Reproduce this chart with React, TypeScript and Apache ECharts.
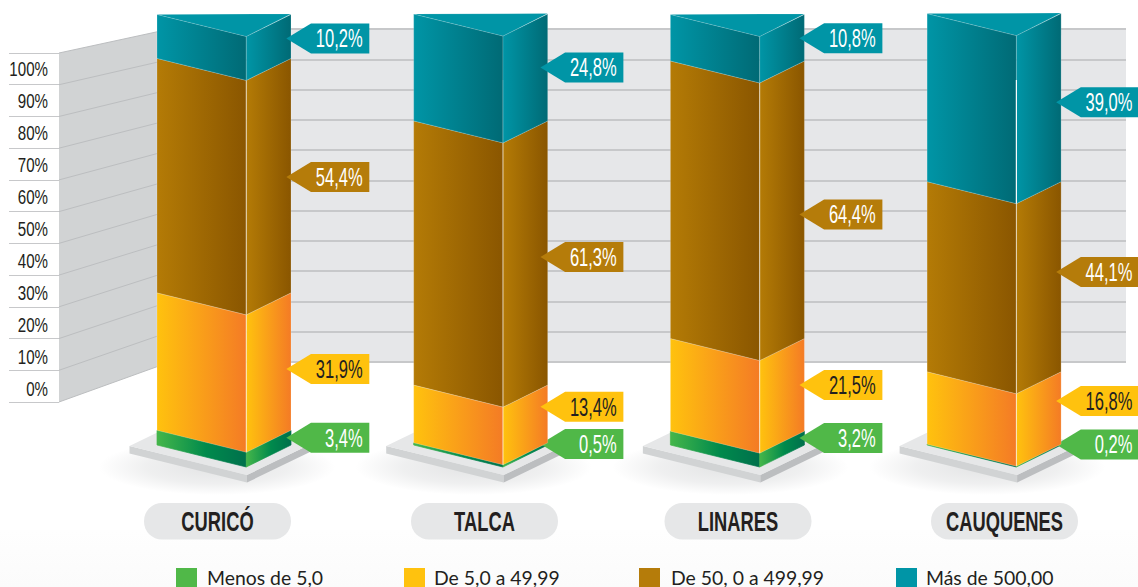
import React, { useEffect, useRef } from "react";
import * as echarts from "echarts";

const categories = ["CURICÓ", "TALCA", "LINARES", "CAUQUENES"];
const menosDe5 = [3.4, 0.5, 3.2, 0.2];
const de5a49 = [31.9, 13.4, 21.5, 16.8];
const de50a499 = [54.4, 61.3, 64.4, 44.1];
const masDe500 = [10.2, 24.8, 10.8, 39.0];
const legendNames = ["Menos de 5,0", "De 5,0 a 49,99", "De 50, 0 a 499,99", "Más de 500,00"];
const wallTicks = [-10, 0, 10, 20, 30, 40, 50, 60, 70, 80, 90, 100];
const wallLabels = [100, 90, 80, 70, 60, 50, 40, 30, 20, 10, 0];

const BODY = '"Liberation Sans", Arial, sans-serif';
const INK = "#231f20";
const legendColors = ["#50b848", "#ffc20e", "#b57c0a", "#0095a6"];
const legendLefts = [176, 404, 639, 896];
const legendTextGap = [5, 4, 6, 4];
const faceStops = [
  [[0, "#45b64a"], [0.55, "#008a4c"], [1, "#00704c"]],
  [[0, "#ffc20e"], [1, "#f47b25"]],
  [[0, "#b47b06"], [1, "#8a5600"]],
  [[0, "#0095a6"], [1, "#006a75"]],
];
const labelFill = ["#ffffff", INK, "#ffffff", "#ffffff"];
// pixel nudges of the callouts from their segment's middle, [series][category]
const calloutNudge = [
  [0, 0, 0, 0],
  [7.4, -7.3, 0, -7],
  [1.4, 4, 14.7, -4.7],
  [2, 0, 0.6, 4.7],
];
const calloutShift = [-4.7, -7.3, -5, -5];
const pillShift = [-6.5, 3.8, 0.6, 10.4];
const tealSeamAlpha = [0, 0.12, 0, 0.95];

const faceHalf = 67;
const midOffset = 22.3;
const drop = 22;

function gradient(stops: any[]) {
  return new echarts.graphic.LinearGradient(
    0, 0, 1, 0,
    stops.map(([offset, color]) => ({ offset, color }))
  );
}

const seriesValues = [menosDe5, de5a49, de50a499, masDe500];

function segmentData(k: number) {
  return categories.map((_, i) => {
    let start = 0;
    for (let s = 0; s < k; s++) start += seriesValues[s][i];
    return [i, start, start + seriesValues[k][i], seriesValues[k][i]];
  });
}

function segmentRender(k: number) {
  return (params: any, api: any) => {
    const i = params.dataIndex;
    const a = api.coord([api.value(0), api.value(1)]);
    const b = api.coord([api.value(0), api.value(2)]);
    const cx = a[0];
    const left = cx - faceHalf;
    const mid = cx + midOffset;
    const right = cx + faceHalf;
    const y0 = a[1];
    const y1 = b[1];
    const edge =
      k === 0
        ? { stroke: gradient(faceStops[0]), lineWidth: 0.7 }
        : { stroke: "rgba(255,255,255,0.3)", lineWidth: 0.6 };
    const children: any[] = [
      {
        type: "polygon",
        shape: { points: [[left, y1], [mid, y1 + drop], [mid, y0 + drop], [left, y0]] },
        style: { fill: gradient(faceStops[k]), ...edge },
      },
      {
        type: "polygon",
        shape: { points: [[mid, y1 + drop], [right, y1], [right, y0], [mid, y0 + drop]] },
        style: { fill: gradient(faceStops[k]), ...edge },
      },
    ];
    if (k === 1 || k === 2) {
      children.push({
        type: "line",
        shape: { x1: mid, y1: y1 + drop, x2: mid, y2: y0 + drop },
        style: { stroke: "rgba(255,255,255,0.55)", lineWidth: 1 },
      });
    }
    if (k === 3) {
      children.push({
        type: "line",
        shape: { x1: mid, y1: 80, x2: mid, y2: y0 + drop },
        style: { stroke: `rgba(255,255,255,${tealSeamAlpha[i]})`, lineWidth: 1.2 },
      });
      children.push({
        type: "polygon",
        shape: { points: [[left, y1], [mid, y1 + drop], [right, y1 - 0.5]] },
        style: { fill: "#0095a6", stroke: "rgba(255,255,255,0.25)", lineWidth: 0.5 },
      });
    }
    // callout
    const cy = (y0 + y1) / 2 + calloutNudge[k][i];
    const tip = right + calloutShift[i];
    const bodyLeft = tip + 24.7;
    const bodyRight = tip + 83;
    children.push({
      type: "polygon",
      shape: {
        points: [
          [tip, cy],
          [bodyLeft, cy - 15],
          [bodyRight, cy - 15],
          [bodyRight, cy + 15],
          [bodyLeft, cy + 15],
        ],
      },
      style: { fill: legendColors[k] },
    });
    children.push({
      type: "text",
      x: bodyRight - 6.7,
      y: cy,
      scaleX: 0.66,
      style: {
        text: api.value(3).toFixed(1).replace(".", ",") + "%",
        align: "right",
        verticalAlign: "middle",
        fontFamily: BODY,
        fontSize: 25,
        fill: labelFill[k],
      },
    });
    return { type: "group", children };
  };
}

function baseRender(params: any, api: any) {
  const i = params.dataIndex;
  const p = api.coord([api.value(0), 0]);
  const cx = p[0];
  const y0 = p[1];
  const xL = cx - 94.5;
  const xM = cx + 23;
  const xR = cx + 87;
  const yL = y0 + 1;
  const yM = y0 + 30;
  const yR = y0 - 1;
  const t = 7.5;
  const pillCx = cx + pillShift[i];
  return {
    type: "group",
    children: [
      {
        type: "ellipse",
        shape: { cx: cx - 7, cy: y0 + 22, rx: 118, ry: 28 },
        style: {
          fill: new echarts.graphic.RadialGradient(0.5, 0.5, 0.5, [
            { offset: 0, color: "rgba(188,190,192,0.42)" },
            { offset: 0.6, color: "rgba(188,190,192,0.24)" },
            { offset: 1, color: "rgba(188,190,192,0)" },
          ]),
        },
      },
      {
        type: "polygon",
        shape: { points: [[xL, yL], [xM, yM], [xM, yM + t], [xL, yL + t]] },
        style: { fill: "#d1d3d4" },
      },
      {
        type: "polygon",
        shape: { points: [[xM, yM], [xR, yR], [xR, yR + t], [xM, yM + t]] },
        style: { fill: "#bcbec0" },
      },
      {
        type: "polygon",
        shape: { points: [[xL, yL], [xL + xR - xM, yL + yR - yM], [xR, yR], [xM, yM]] },
        style: { fill: "#e6e7e8" },
      },
      {
        type: "rect",
        shape: { x: pillCx - 73.5, y: 503, width: 147, height: 36.5, r: 18 },
        style: { fill: "#e6e7e8" },
      },
      {
        type: "text",
        x: pillCx,
        y: 521.5,
        scaleX: 0.655,
        style: {
          text: categories[i],
          align: "center",
          verticalAlign: "middle",
          fontFamily: BODY,
          fontWeight: "bold",
          fontSize: 28,
          fill: INK,
        },
      },
    ],
  };
}

function wallLabelRender(params: any, api: any) {
  const v = api.value(1);
  const p = api.coord([1, v]);
  return {
    type: "text",
    x: p[0] - 11,
    y: p[1] + 16 + (100 - v) * 0.025,
    scaleX: 0.72,
    style: {
      text: v + "%",
      align: "right",
      verticalAlign: "middle",
      fontFamily: BODY,
      fontSize: 21,
      fill: INK,
    },
  };
}

function wallGraphic() {
  const wallY = (v: number) => 402 - ((v + 10) / 110) * 349;
  const backY = (v: number) => 362 - ((v + 10) / 110) * 333;
  const els: any[] = [
    {
      type: "rect",
      shape: { x: 0, y: 530, width: 1138, height: 57 },
      style: {
        fill: new echarts.graphic.LinearGradient(0, 0, 0, 1, [
          { offset: 0, color: "#fefefe" },
          { offset: 1, color: "#fbfbfb" },
        ]),
      },
    },
    {
      type: "polygon",
      shape: { points: [[59, wallY(100)], [170, backY(100)], [170, backY(-10)], [59, wallY(-10)]] },
      style: { fill: "#d1d3d4" },
    },
  ];
  wallTicks.forEach((v) => {
    els.push({
      type: "line",
      shape: { x1: 59, y1: wallY(v), x2: 170, y2: backY(v) },
      style: { stroke: "#bcbec0", lineWidth: 1 },
    });
  });
  return { elements: els };
}

export default function App() {
  const ref = useRef<HTMLDivElement>(null);
  useEffect(() => {
    const chart = echarts.init(ref.current!, undefined, { renderer: "svg" });
    const hiddenX = (gridIndex: number) => ({
      type: "value",
      gridIndex,
      min: 0,
      max: 1,
      show: false,
    });
    chart.setOption({
      animation: false,
      backgroundColor: "#ffffff",
      graphic: wallGraphic(),
      grid: [
        { left: 9, top: 53, width: 50, height: 349 },
        {
          left: 170,
          top: 29,
          width: 956,
          height: 333,
          show: true,
          backgroundColor: "#e6e7e9",
          borderWidth: 0,
        },
        { left: 95.65, top: 14, width: 1026.8, height: 431 },
      ],
      xAxis: [
        hiddenX(0),
        hiddenX(1),
        { type: "category", gridIndex: 2, data: categories, show: false },
      ],
      yAxis: [
        {
          type: "value",
          gridIndex: 0,
          min: -10,
          max: 100,
          interval: 10,
          axisLine: { show: false },
          axisTick: { show: false },
          axisLabel: { show: false },
          splitLine: { show: true, lineStyle: { color: "#c7c8ca", width: 1 } },
        },
        {
          type: "value",
          gridIndex: 1,
          min: -10,
          max: 100,
          interval: 10,
          axisLine: { show: false },
          axisTick: { show: false },
          axisLabel: { show: false },
          splitLine: { show: true, lineStyle: { color: "#c7c8ca", width: 2 } },
        },
        { type: "value", gridIndex: 2, min: 0, max: 100, show: false, splitLine: { show: false } },
      ],
      legend: legendNames.map((name, i) => ({
        data: [name],
        left: legendLefts[i],
        top: 568,
        padding: 0,
        itemWidth: 21,
        itemHeight: 19,
        icon: "rect",
        selectedMode: false,
        textStyle: {
          fontFamily: 'Lato, "Open Sans", sans-serif',
          fontSize: 19.4,
          lineHeight: 18,
          color: INK,
          padding: [0, 0, 0, legendTextGap[i]],
        },
      })),
      series: [
        {
          type: "custom",
          name: "rótulos",
          xAxisIndex: 0,
          yAxisIndex: 0,
          data: wallLabels.map((v) => [1, v]),
          encode: { x: 0, y: 1 },
          renderItem: wallLabelRender,
        },
        {
          type: "custom",
          name: "bases",
          xAxisIndex: 2,
          yAxisIndex: 2,
          data: categories.map((_, i) => [i]),
          encode: { x: 0 },
          renderItem: baseRender,
        },
        ...legendNames.map((name, k) => ({
          type: "custom",
          name,
          xAxisIndex: 2,
          yAxisIndex: 2,
          itemStyle: { color: legendColors[k] },
          data: segmentData(k),
          encode: { x: 0, y: [1, 2] },
          renderItem: segmentRender(k),
        })),
      ],
    });
    return () => chart.dispose();
  }, []);
  return (
    <div
      ref={ref}
      style={{ position: "absolute", left: 0, top: 0, width: 1138, height: 587, overflow: "hidden" }}
    />
  );
}
